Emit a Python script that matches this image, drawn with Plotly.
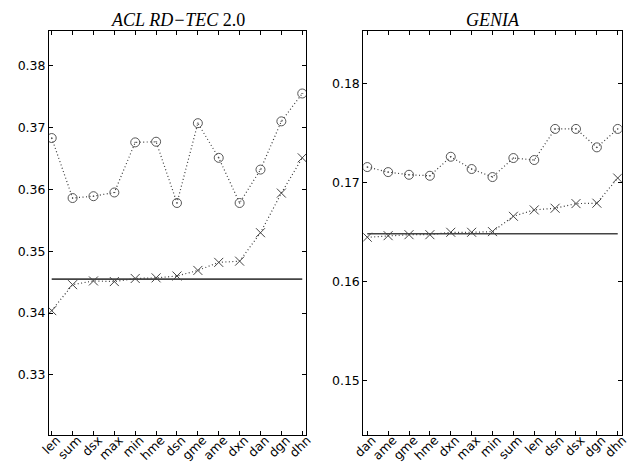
import plotly.graph_objects as go

# ---- data ----
acl_labels = ["len", "sum", "dsx", "max", "min", "hme", "dsn", "gme", "ame", "dxn", "dan", "dgn", "dhn"]
acl_circle = [0.3683, 0.3586, 0.3589, 0.3595, 0.3676, 0.3677, 0.3578, 0.3707, 0.3651, 0.3578, 0.3632, 0.3710, 0.3755]
acl_cross = [0.3404, 0.3446, 0.3452, 0.3451, 0.3456, 0.3457, 0.3460, 0.3469, 0.3482, 0.3484, 0.3530, 0.3594, 0.3651]
acl_baseline = 0.3455

genia_labels = ["dan", "ame", "gme", "hme", "dxn", "max", "min", "sum", "len", "dsn", "dsx", "dgn", "dhn"]
genia_circle = [0.17156, 0.17105, 0.17078, 0.17068, 0.17260, 0.17136, 0.17055, 0.17247, 0.17227, 0.17541, 0.17541, 0.17355, 0.17541]
genia_cross = [0.16447, 0.16463, 0.16473, 0.16473, 0.16497, 0.16497, 0.16504, 0.16659, 0.16723, 0.16740, 0.16787, 0.16791, 0.17045]
genia_baseline = 0.16483

acl_yticks = [0.33, 0.34, 0.35, 0.36, 0.37, 0.38]
genia_yticks = [0.15, 0.16, 0.17, 0.18]

W, H = 634, 465
fig = go.Figure()

line_col = "#3a3a3a"
mk_col = "#444444"
dot = "1px,2.5px"

def add_panel(labels, circ, cross, base, xa, ya):
    idx = list(range(len(labels)))
    fig.add_trace(go.Scatter(x=idx, y=[base] * len(idx), mode="lines",
                             line=dict(color="#444444", width=1.6),
                             xaxis=xa, yaxis=ya, showlegend=False, hoverinfo="skip"))
    fig.add_trace(go.Scatter(x=idx, y=circ, mode="lines+markers",
                             line=dict(color=line_col, width=1.2, dash=dot),
                             marker=dict(symbol="circle-open-dot", size=9, color=mk_col,
                                         line=dict(width=0.9, color=mk_col)),
                             xaxis=xa, yaxis=ya, showlegend=False))
    fig.add_trace(go.Scatter(x=idx, y=cross, mode="lines+markers",
                             line=dict(color=line_col, width=1.2, dash=dot),
                             marker=dict(symbol="x-thin-open", size=9, color=mk_col,
                                         line=dict(width=1, color=mk_col)),
                             xaxis=xa, yaxis=ya, showlegend=False))

add_panel(acl_labels, acl_circle, acl_cross, acl_baseline, "x", "y")
add_panel(genia_labels, genia_circle, genia_cross, genia_baseline, "x2", "y2")

tick_font = dict(family="DejaVu Sans", size=12.5, color="black")

def xaxis_cfg(labels, dom, rng):
    return dict(domain=dom, range=rng, tickmode="array",
                tickvals=list(range(len(labels))), ticktext=labels,
                tickangle=-45, ticks="inside", ticklen=4, tickcolor="black",
                showline=True, linecolor="black", linewidth=1, mirror="allticks",
                showgrid=False, zeroline=False, tickfont=tick_font, automargin=False,
                ticklabelstandoff=-8, ticklabelshift=5)

def yaxis_cfg(ticks, dom, rng, anchor):
    return dict(domain=dom, range=rng, tickmode="array", tickvals=ticks,
                ticktext=["%.2f" % t for t in ticks], anchor=anchor,
                ticks="inside", ticklen=4, tickcolor="black",
                showline=True, linecolor="black", linewidth=1, mirror="allticks",
                showgrid=False, zeroline=False, tickfont=tick_font, automargin=False)

ydom = [1 - 435 / H, 1 - 31 / H]
fig.update_layout(
    width=W, height=H,
    margin=dict(l=0, r=0, t=0, b=0),
    paper_bgcolor="white", plot_bgcolor="white",
    xaxis=xaxis_cfg(acl_labels, [49 / W, 306 / W], [-0.13, 12.18]) | dict(anchor="y"),
    yaxis=yaxis_cfg(acl_yticks, ydom, [0.3203, 0.3856], "x"),
    xaxis2=xaxis_cfg(genia_labels, [363.3 / W, 621.7 / W], [-0.19, 12.19]) | dict(anchor="y2"),
    yaxis2=yaxis_cfg(genia_yticks, ydom, [0.1445, 0.1853], "x2"),
    annotations=[
        dict(text="<i>ACL RD−TEC</i> 2.0", x=177.5 / W, y=1 - 20 / H, xref="paper", yref="paper",
             showarrow=False, xanchor="center", yanchor="middle",
             font=dict(family="Liberation Serif", size=18, color="black")),
        dict(text="<i>GENIA</i>", x=492.5 / W, y=1 - 20 / H, xref="paper", yref="paper",
             showarrow=False, xanchor="center", yanchor="middle",
             font=dict(family="Liberation Serif", size=18, color="black")),
    ],
)

fig.write_html("out.html")
